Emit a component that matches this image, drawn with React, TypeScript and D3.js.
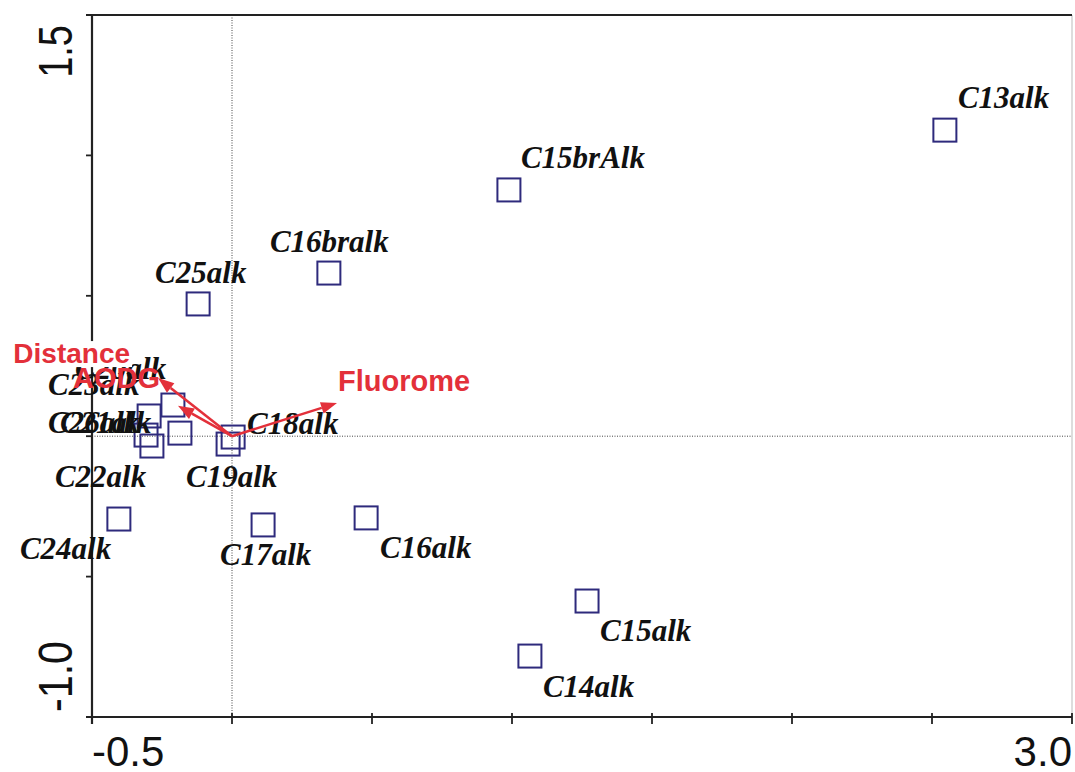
import React from "react";
import * as d3 from "d3";

// Species scores (axis 1, axis 2)
const species = ["C13alk","C15brAlk","C16bralk","C25alk","C20alk","C23alk","C26alk","C21alk","C22alk","C18alk","C19alk","C24alk","C17alk","C16alk","C15alk","C14alk"];
const axis1 = [2.546, 0.989, 0.346, -0.121, -0.211, -0.296, -0.307, -0.186, -0.286, 0.004, -0.014, -0.404, 0.111, 0.479, 1.268, 1.064];
const axis2 = [1.090, 0.877, 0.581, 0.471, 0.111, 0.072, 0.004, 0.011, -0.035, -0.003, -0.028, -0.295, -0.316, -0.291, -0.587, -0.783];

// Environmental vectors
const envNames = ["Distance", "AODG", "Fluorome"];
const envX = [-0.264, -0.193, 0.375];
const envY = [0.207, 0.108, 0.118];

// Axis
const xDomain = [-0.5, 3.0];
const yDomain = [-1.0, 1.5];
const xTicks = [-0.5, 0, 0.5, 1.0, 1.5, 2.0, 2.5, 3.0];
const yTicks = [-1.0, -0.5, 0, 0.5, 1.0, 1.5];

// Label layout offsets (pixels from point: text start x, baseline y)
const labelOffsets: [number, number][] = [
  [13, -22], [12, -22], [-59, -21], [-43, -21], [-98, -26], [-101, -21], [-98, -2], [-120, 0],
  [-97, 41], [14, -3], [-42, 43], [-99, 40], [-43, 40], [14, 40], [13, 40], [13, 41],
];
const envLabelOffsets: [number, number, string][] = [
  [-28, -15, "end"], [-18, -18, "end"], [1, -12, "start"],
];

const W = 1075, H = 772;
const L = 92, R = 1072, T = 15, B = 717;

const fmt = (v: number) => d3.format(".1f")(v).replace("\u2212", "-");

export default function App() {
  const x = d3.scaleLinear().domain(xDomain).range([L, R]);
  const y = d3.scaleLinear().domain(yDomain).range([B, T]);
  const navy = "#2e2a7c";
  const red = "#e3303a";
  const sq = 23;

  const arrow = (x0: number, y0: number, x1: number, y1: number) => {
    const ang = Math.atan2(y1 - y0, x1 - x0);
    const len = 16, half = 6;
    const bx = x1 - len * Math.cos(ang), by = y1 - len * Math.sin(ang);
    const p1 = [bx + half * Math.sin(ang), by - half * Math.cos(ang)];
    const p2 = [bx - half * Math.sin(ang), by + half * Math.cos(ang)];
    return { line: [x0, y0, bx, by], head: `${x1},${y1} ${p1[0]},${p1[1]} ${p2[0]},${p2[1]}` };
  };

  const sans = "Liberation Sans, Arial, sans-serif";

  return (
    <svg width={W} height={H} style={{ position: "absolute", left: 0, top: 0, background: "#fff" }}>
      {/* zero lines */}
      <line x1={x(0)} x2={x(0)} y1={T} y2={B} stroke="#444" strokeWidth={1} strokeDasharray="1,1.5" />
      <line x1={L} x2={R} y1={y(0)} y2={y(0)} stroke="#444" strokeWidth={1} strokeDasharray="1,1.5" />
      {/* frame */}
      <line x1={R} x2={R} y1={T} y2={B} stroke="#bbb" strokeWidth={1} />
      <line x1={L - 6} x2={R} y1={T} y2={T} stroke="#222" strokeWidth={2.2} />
      <line x1={L} x2={L} y1={T} y2={B + 7} stroke="#222" strokeWidth={2.2} />
      <line x1={L - 6} x2={R} y1={B} y2={B} stroke="#222" strokeWidth={2.2} />
      {xTicks.map((t, i) => (
        <line key={"xt" + i} x1={x(t)} x2={x(t)} y1={B - 4} y2={B + 7} stroke="#222" strokeWidth={1.8} />
      ))}
      {yTicks.map((t, i) => (
        <line key={"yt" + i} x1={L - 6} x2={L} y1={y(t)} y2={y(t)} stroke="#222" strokeWidth={1.8} />
      ))}
      {/* axis end labels */}
      <text x={L} y={766} fontFamily={sans} fontSize={42} fill="#111" textAnchor="start">
        {fmt(xDomain[0])}
      </text>
      <text x={R} y={766} fontFamily={sans} fontSize={42} fill="#111" textAnchor="end">
        {fmt(xDomain[1])}
      </text>
      <text transform={`translate(72,${B - 5}) rotate(-90) scale(1.03,1.22)`} fontFamily={sans} fontSize={40} fill="#111" textAnchor="start">
        {fmt(yDomain[0])}
      </text>
      <text transform={`translate(72,${T + 10}) rotate(-90) scale(0.95,1.22)`} fontFamily={sans} fontSize={40} fill="#111" textAnchor="end">
        {fmt(yDomain[1])}
      </text>
      {/* species squares */}
      {species.map((s, i) => (
        <rect key={"sq" + s} x={x(axis1[i]) - sq / 2} y={y(axis2[i]) - sq / 2} width={sq} height={sq}
          fill="none" stroke={navy} strokeWidth={2} />
      ))}
      {/* species labels */}
      {species.map((s, i) => (
        <text key={"lb" + s} x={x(axis1[i]) + labelOffsets[i][0]} y={y(axis2[i]) + labelOffsets[i][1]}
          fontFamily="Liberation Serif, Times New Roman, serif" fontStyle="italic" fontWeight="bold"
          fontSize={31} fill="#111">{s}</text>
      ))}
      {/* env vectors */}
      {envNames.map((n, i) => {
        const a = arrow(x(0), y(0), x(envX[i]), y(envY[i]));
        return (
          <g key={"env" + n}>
            <line x1={a.line[0]} y1={a.line[1]} x2={a.line[2]} y2={a.line[3]} stroke={red} strokeWidth={2.5} />
            <polygon points={a.head} fill={red} />
          </g>
        );
      })}
      {envNames.map((n, i) => {
        const tx = x(envX[i]) + envLabelOffsets[i][0];
        const ty = y(envY[i]) + envLabelOffsets[i][1];
        return (
          <g key={"envl" + n}>
            {i === 0 && <rect x={tx - 120} y={ty - 22} width={122} height={26} fill="#fff" />}
            <text x={tx} y={ty} textAnchor={envLabelOffsets[i][2] as any}
              fontFamily={sans} fontWeight="bold" fontSize={i === 0 ? 28 : 29} fill={red}>{n}</text>
          </g>
        );
      })}
    </svg>
  );
}
